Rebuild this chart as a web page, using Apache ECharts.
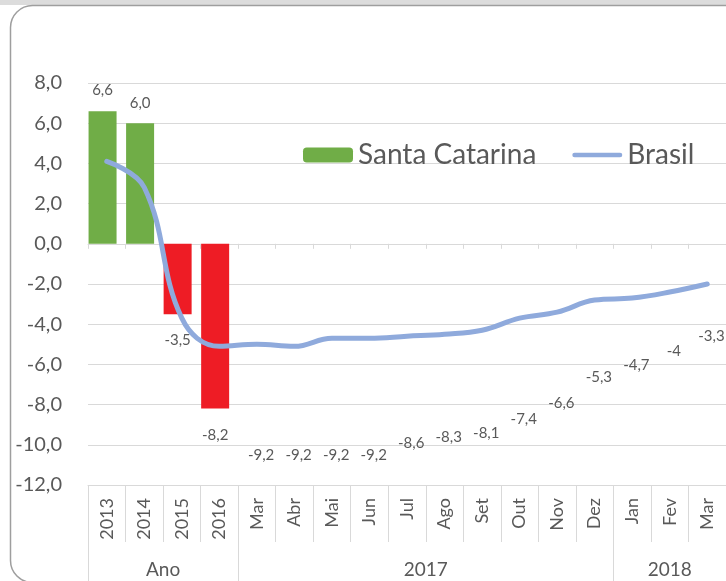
<!DOCTYPE html>
<html>
<head>
<meta charset="utf-8">
<style>
  html, body { margin: 0; padding: 0; background: #ffffff; }
  #chart { width: 726px; height: 581px; }
</style>
<script src="https://cdn.jsdelivr.net/npm/echarts@6/dist/echarts.min.js"></script>
</head>
<body>
<div id="chart"></div>
<script>
// Categories: yearly results followed by the monthly series of 2017/2018
const categories = ['2013', '2014', '2015', '2016', 'Mar', 'Abr', 'Mai', 'Jun', 'Jul', 'Ago', 'Set', 'Out', 'Nov', 'Dez', 'Jan', 'Fev', 'Mar'];

// Group row under the month labels: name, first index, last index (exclusive)
const groupNames = ['Ano', '2017', '2018'];
const groupStarts = [0, 4, 14];
const groupEnds = [4, 14, 17];

// Santa Catarina, yearly (2013–2016)
const scAno = [6.6, 6.0, -3.5, -8.2];
// Santa Catarina, accumulated monthly (Mar/2017 – Mar/2018)
const scMensal = [-9.2, -9.2, -9.2, -9.2, -8.6, -8.3, -8.1, -7.4, -6.6, -5.3, -4.7, -4, -3.3];
// Brasil
const brasil = [4.1, 2.8, -3.7, -5.1, -5.0, -5.1, -4.7, -4.7, -4.6, -4.5, -4.3, -3.7, -3.4, -2.8, -2.7, -2.4, -2.0];

// Y axis range
const yMin = -12, yMax = 8, yStep = 2;

const GREEN = '#70ad47';
const RED = '#ee1c25';
const BLUE = '#8faadc';
const TEXT = '#595959';
const GRID = '#d9d9d9';
const FONT = 'Lato, "Noto Sans", sans-serif';

const comma = s => String(s).replace('.', ',');

const anoData = categories.map((c, i) => {
  if (i >= scAno.length) return '-';
  const v = scAno[i];
  return {
    value: v,
    itemStyle: { color: v >= 0 ? GREEN : RED },
    label: { distance: v >= 0 ? 13 : 19 }
  };
});
const mensalData = categories.map((c, i) => {
  const k = i - scAno.length;
  return k >= 0 ? scMensal[k] : '-';
});

const chart = echarts.init(document.getElementById('chart'), null, { renderer: 'canvas' });

chart.setOption({
  backgroundColor: '#ffffff',
  animation: false,
  textStyle: { fontFamily: FONT },
  graphic: [
    { type: 'rect', silent: true, z: -10, shape: { x: 0, y: 0, width: 726, height: 5 }, style: { fill: '#dcdcdc' } },
    { type: 'rect', silent: true, z: -10, shape: { x: 10.5, y: 5.5, width: 740, height: 577, r: 22 },
      style: { fill: 'transparent', stroke: '#9e9e9e', lineWidth: 1.5 } }
  ],
  legend: {
    data: [
      { name: 'Santa Catarina' },
      { name: 'Brasil', icon: 'path://M2,0 H52 A2.5,2.5 0 0 1 52,5 H2 A2.5,2.5 0 0 1 2,0 Z', itemStyle: { color: BLUE } }
    ],
    left: 303,
    top: 141,
    padding: 0,
    itemWidth: 50,
    itemHeight: 15,
    itemGap: 36,
    textStyle: { fontFamily: FONT, fontSize: 28, color: TEXT }
  },
  grid: { left: 88, top: 83, width: 648, height: 402, containLabel: false },
  xAxis: [
    {
      // axis line through zero with tick marks between categories
      type: 'category',
      data: categories,
      position: 'bottom',
      axisLine: { onZero: true, lineStyle: { color: GRID, width: 1 } },
      axisTick: { show: true, length: 5, lineStyle: { color: GRID } },
      axisLabel: { show: false },
      splitLine: { show: false }
    },
    {
      // category table under the plot
      type: 'category',
      data: categories,
      position: 'bottom',
      axisLine: { onZero: false, show: true, lineStyle: { color: GRID } },
      axisTick: { show: true, length: 57, lineStyle: { color: GRID } },
      axisLabel: { rotate: 90, margin: 13, fontSize: 18, color: TEXT, fontFamily: FONT, interval: 0 },
      splitLine: { show: false }
    },
    {
      // group row: Ano / 2017 / 2018
      type: 'value',
      min: 0,
      max: categories.length,
      position: 'bottom',
      axisLine: { onZero: false, show: false },
      axisTick: { show: true, length: 100, customValues: [0].concat(groupEnds), lineStyle: { color: GRID } },
      axisLabel: {
        customValues: groupStarts.map((s, i) => (s + groupEnds[i]) / 2),
        margin: 75,
        fontSize: 19,
        color: TEXT,
        fontFamily: FONT,
        formatter: v => {
          const i = groupStarts.findIndex((s, k) => (s + groupEnds[k]) / 2 === v);
          return i >= 0 ? groupNames[i] : '';
        }
      },
      splitLine: { show: false }
    }
  ],
  yAxis: {
    type: 'value',
    min: yMin,
    max: yMax,
    interval: yStep,
    axisLine: { show: false },
    axisTick: { show: false },
    axisLabel: { fontSize: 20, color: TEXT, margin: 26, fontFamily: FONT, formatter: v => comma(v.toFixed(1)) },
    splitLine: { lineStyle: { color: GRID, width: 1 } }
  },
  series: [
    {
      name: 'Santa Catarina',
      type: 'bar',
      xAxisIndex: 0,
      data: anoData,
      barWidth: 28,
      barGap: '-70%',
      itemStyle: { color: GREEN },
      label: {
        show: true,
        position: 'outside',
        fontSize: 15,
        color: TEXT,
        fontFamily: FONT,
        formatter: p => comma(p.value.toFixed(1))
      }
    },
    {
      name: 'Santa Catarina (mensal)',
      type: 'bar',
      xAxisIndex: 0,
      data: mensalData,
      barWidth: 28,
      barGap: '-70%',
      itemStyle: { color: 'rgba(0,0,0,0)' },
      label: {
        show: true,
        position: 'outside',
        distance: 19,
        fontSize: 15,
        color: TEXT,
        fontFamily: FONT,
        formatter: p => comma(p.value)
      }
    },
    {
      name: 'Brasil',
      type: 'line',
      xAxisIndex: 0,
      data: brasil,
      smooth: 0.4,
      symbol: 'none',
      z: 5,
      lineStyle: { color: BLUE, width: 5, cap: 'round' },
      itemStyle: { color: BLUE }
    }
  ]
});
</script>
</body>
</html>
